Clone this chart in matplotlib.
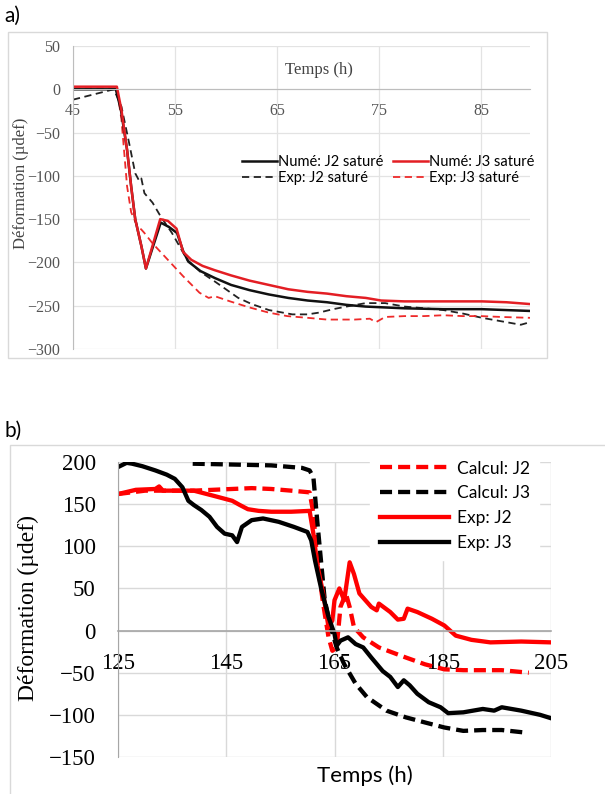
import matplotlib.pyplot as plt
from matplotlib.patches import Rectangle

# ---- panel a) : numerical vs experimental strain, saturated joints ----
t_num_j2 = [45, 49.2, 49.7, 50.3, 50.7, 51.1, 51.7, 52.15, 53.6, 54.4, 55.2, 55.8, 56.3, 57.5,
            58.9, 60.5, 62.3, 64.2, 66.1, 68.0, 69.9, 71.8, 73.7, 75.6, 77.5, 81.3, 85.1, 89.7]
num_j2 = [0, 0, -24, -70, -112, -150, -181, -207, -154, -159, -166, -187, -199, -210,
          -218, -226, -232, -237, -241, -244, -246, -249, -251, -252, -253, -254, -254, -256]

t_num_j3 = [45, 49.3, 49.75, 50.3, 50.7, 51.1, 51.7, 52.15, 53.55, 54.3, 55.15, 55.8, 56.6, 57.7,
            58.9, 60.5, 62.3, 64.2, 66.1, 68.0, 69.9, 71.8, 73.7, 75.2, 77.5, 79.4, 82.0, 85.1,
            87.5, 89.7]
num_j3 = [3, 3, -24, -70, -112, -150, -181, -207, -150, -152, -161, -188, -197, -204,
          -209, -215, -221, -226, -231, -234, -236, -239, -241, -244, -245, -245, -245, -245,
          -246, -248]

t_exp_j2 = [45, 47, 49, 49.75, 50.5, 51.1, 51.5, 51.7, 52.0, 52.8, 53.6, 54.7, 56.2, 57.5,
            58.9, 61.2, 62.5, 64.2, 66.5, 68.0, 69.1, 70.5, 71.8, 73.7, 75.6, 77.5, 79.5,
            81.3, 83.2, 85.1, 87.0, 88.9, 89.8]
exp_j2 = [-12, -6, 0, -20, -62, -97, -106, -103, -120, -131, -147, -166, -197, -211,
          -222, -241, -248, -255, -260, -260, -258, -254, -251, -247, -247, -251, -253,
          -255, -259, -264, -268, -272, -269]

t_exp_j3 = [45, 49.3, 49.75, 50.3, 50.7, 51.3, 51.7, 52.0, 52.8, 54.3, 55.8, 57.4, 58.3, 58.9,
            60.4, 62.3, 64.2, 66.0, 68.0, 69.9, 72.6, 74.1, 74.7, 75.6, 77.5, 79.4, 81.3,
            83.2, 85.0, 87.0, 89.8]
exp_j3 = [1, 1, -35, -112, -142, -158, -162, -166, -178, -197, -216, -235, -241, -239,
          -245, -252, -258, -262, -264, -266, -266, -265, -269, -263, -262, -262, -261,
          -262, -262, -263, -264]

# ---- panel b) : calculation vs experiment ----
t_calc_j2 = [125, 130, 135, 139, 146.1, 149.7, 153.3, 157, 160.4, 161.1, 161.8, 162.9, 163.9,
             164.6, 165.4, 166.1, 167.1, 167.8, 168.6, 170.3, 173.2, 178.2, 181.7, 185.3,
             188.8, 195.9, 200.9]
calc_j2 = [162, 166, 166, 166, 168, 169, 168, 166, 164, 139, 83, 32, -8,
           -24, -20, 28, 44, 28, 4, -8, -20, -32, -40, -46,
           -47, -47, -50]

t_calc_j3 = [138.8, 146.1, 153.3, 159, 160.4, 161.1, 161.8, 162.5, 163.2, 164.3, 165.4, 166.8,
             168.9, 171, 174.6, 178.2, 181.7, 185.3, 188.8, 192.4, 195.9, 200.2]
calc_j3 = [198, 197, 196, 193, 190, 182, 131, 83, 36, 4, -20, -40,
           -63, -79, -95, -103, -109, -115, -119, -118, -118, -121]

t_b_exp_j2 = [125, 128.3, 131.9, 132.6, 133.3, 136, 139, 142.6, 146.1, 147.5, 149, 151, 153.3,
              157, 160.4, 161.1, 161.8, 162.9, 163.9, 164.6, 165, 165.9, 166.8, 167.8, 168.6,
              169.6, 171.8, 172.8, 173.2, 175.3, 176.7, 177.8, 178.5, 180.3, 183, 185.3, 187.4,
              190.3, 193.8, 199.5, 205]
b_exp_j2 = [162, 167, 168, 171, 166, 166, 166, 160, 154, 149, 144, 142, 141,
            141, 142, 115, 79, 44, 4, 12, 36, 50, 36, 81, 67,
            44, 28, 24, 32, 22, 13, 14, 26, 22, 14, 6, -6,
            -11, -14, -13, -14]

t_b_exp_j3 = [125, 126.6, 127.6, 129.5, 131.9, 134, 135.5, 136.9, 138, 139, 140.4, 141.9, 143.3,
              144.7, 146.1, 147, 147.9, 149.7, 151.8, 154.7, 157.5, 160, 160.7, 161.4, 162.5,
              163.9, 165, 165.4, 166.1, 167.5, 168.9, 170.3, 171.8, 173.9, 175.3, 176.7, 177.8,
              178.9, 180.3, 182.4, 184.6, 186, 188.8, 192.4, 194.5, 195.9, 199.5, 203, 205]
b_exp_j3 = [194, 199, 198, 195, 190, 185, 180, 170, 154, 149, 143, 135, 123,
            115, 113, 105, 123, 131, 133, 129, 123, 117, 107, 83, 51,
            16, -4, -18, -12, -8, -16, -20, -32, -48, -55, -67, -59,
            -65, -75, -85, -91, -98, -97, -93, -95, -91, -95, -100, -104]

SERIF = 'Liberation Serif'
SANS = 'Lato'
W, H = 605, 794

fig = plt.figure(figsize=(W / 100, H / 100), dpi=100)

# chart area borders (excel style)
fig.patches.append(Rectangle((8 / W, 1 - 358 / H), 539 / W, 326 / H, transform=fig.transFigure,
                             fill=False, edgecolor='#d9d9d9', lw=1))
fig.patches.append(Rectangle((10 / W, -0.01), 1.0, 1 - 445 / H + 0.01, transform=fig.transFigure,
                             fill=False, edgecolor='#d9d9d9', lw=1))

fig.text(4 / W, 1 - 16 / H, 'a)', fontsize=15, family=SANS, va='center')
fig.text(4 / W, 1 - 431 / H, 'b)', fontsize=15, family=SANS, va='center')

# ================= a) =================
ax = fig.add_axes([73 / W, 1 - 349 / H, 457 / W, 303 / H])
ax.plot(t_exp_j2, exp_j2, color='#222222', lw=1.3, ls=(0, (4, 2.5)), label='Exp: J2 saturé')
ax.plot(t_exp_j3, exp_j3, color='#ee2a2a', lw=1.3, ls=(0, (4, 2.5)), label='Exp: J3 saturé')
ax.plot(t_num_j2, num_j2, color='#111111', lw=1.8, label='Numé: J2 saturé')
ax.plot(t_num_j3, num_j3, color='#e31e24', lw=1.8, label='Numé: J3 saturé')
ax.set_xlim(45, 89.8)
ax.set_ylim(-300, 50)
ax.set_xticks([45, 55, 65, 75, 85])
ax.set_yticks(range(-300, 51, 50))
ax.grid(True, color='#e3e3e3', lw=0.9)
ax.set_axisbelow(True)
for s in ['top', 'right']:
    ax.spines[s].set_visible(False)
ax.spines['bottom'].set_position(('data', 0))
ax.spines['bottom'].set_color('#bdbdbd')
ax.spines['left'].set_color('#bdbdbd')
ax.tick_params(axis='x', length=0, pad=10, labelsize=11.5, labelcolor='#555555')
ax.tick_params(axis='y', length=0, pad=9, labelsize=11.5, labelcolor='#555555')
for lab in ax.get_xticklabels() + ax.get_yticklabels():
    lab.set_family(SERIF)
h, l = ax.get_legend_handles_labels()
order = [2, 0, 3, 1]
ax.legend([h[i] for i in order], [l[i] for i in order], ncol=2, frameon=False,
          loc='upper left', bbox_to_anchor=(242 / W, 1 - 155 / H), bbox_transform=fig.transFigure,
          prop={'family': SANS, 'size': 10.5}, handlelength=2.4, handletextpad=0.1,
          columnspacing=0.6, labelspacing=0.15, borderpad=0, borderaxespad=0)
fig.text(319 / W, 1 - 70 / H, 'Temps (h)', family=SERIF, fontsize=12, color='#444444',
         ha='center', va='center')
fig.text(21 / W, 1 - 183 / H, 'Déformation (µdef)', family=SERIF, fontsize=12,
         color='#444444', rotation=90, ha='center', va='center')

# ================= b) =================
bx = fig.add_axes([118 / W, 1 - 757 / H, 433 / W, 295 / H])
dash = (0, (2.8, 1.4))
bx.plot(t_calc_j2, calc_j2, color='#ff0000', lw=3.1, ls=dash, label='Calcul: J2')
bx.plot(t_calc_j3, calc_j3, color='#000000', lw=3.1, ls=dash, label='Calcul: J3')
bx.plot(t_b_exp_j2, b_exp_j2, color='#ff0000', lw=3.1, label='Exp: J2')
bx.plot(t_b_exp_j3, b_exp_j3, color='#000000', lw=3.1, label='Exp: J3')
bx.set_xlim(125, 205)
bx.set_ylim(-150, 200)
bx.set_xticks([125, 145, 165, 185, 205])
bx.set_yticks(range(-150, 201, 50))
bx.grid(True, color='#d9d9d9', lw=1)
bx.set_axisbelow(True)
for s in ['top', 'right']:
    bx.spines[s].set_visible(False)
bx.spines['bottom'].set_position(('data', 0))
bx.spines['bottom'].set_color('#a6a6a6')
bx.spines['bottom'].set_linewidth(1.2)
bx.spines['left'].set_color('#a6a6a6')
bx.tick_params(axis='x', length=0, pad=16, labelsize=16.5)
bx.tick_params(axis='y', length=0, pad=16, labelsize=16.5)
for lab in bx.get_xticklabels() + bx.get_yticklabels():
    lab.set_family(SERIF)
bx.legend(loc='upper left', bbox_to_anchor=(370 / W, 1 - 451 / H), bbox_transform=fig.transFigure,
          frameon=True, fancybox=False, edgecolor='white', framealpha=1,
          prop={'family': SANS, 'size': 12.5}, handlelength=4.0, handletextpad=0.45,
          labelspacing=0.5, borderpad=0.55, borderaxespad=0)
fig.text(365 / W, 1 - 776 / H, 'Temps (h)', family=SANS, fontsize=16, ha='center', va='center',
         bbox=dict(boxstyle='square,pad=0.4', fc='white', ec='none'))
fig.text(28 / W, 1 - 608 / H, 'Déformation (µdef)', family=SERIF, fontsize=17,
         rotation=90, ha='center', va='center')

fig.savefig('out.png', dpi=100)
